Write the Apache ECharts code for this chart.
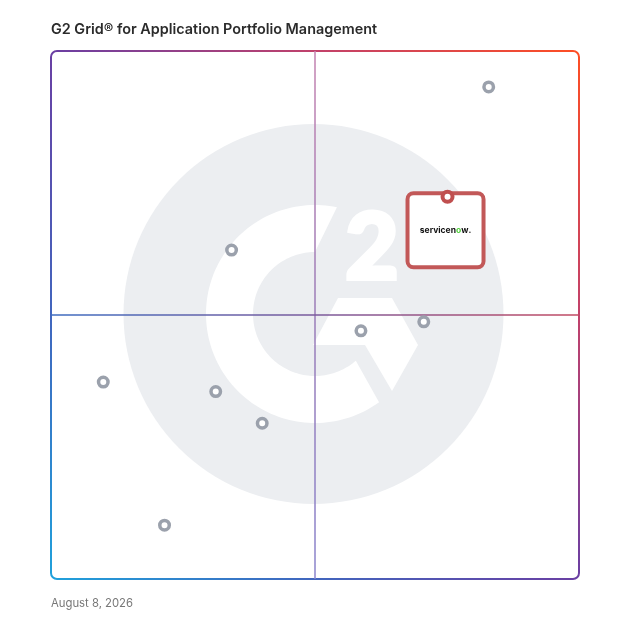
<!DOCTYPE html>
<html><head><meta charset="utf-8">
<script src="https://cdn.jsdelivr.net/npm/echarts@6/dist/echarts.min.js"></script>
<style>html,body{margin:0;padding:0;background:#fff}#c{width:628px;height:628px}</style>
</head><body><div id="c"></div>
<script>
const titleText = 'G2 Grid® for Application Portfolio Management';
const dateText = 'August 8, 2026';
const productX = [82.9, 34.2, 58.7, 70.6, 9.9, 31.2, 40.0, 21.5];
const productY = [93.2, 62.3, 47.0, 48.7, 37.3, 35.5, 29.5, 10.2];
const featuredName = 'servicenow';
const featuredX = [75.1];
const featuredY = [72.4];
const axisMin = 0, axisMax = 100, midValue = 50;

const chart = echarts.init(document.getElementById('c'), null, {renderer: 'canvas'});
const G = echarts.graphic;

// decorative G2 watermark geometry
const cx = 315, cy = 314, rOut = 109, rIn = 62;
const ringPts = [];
const deg = Math.PI / 180;
for (let a = -78.4; a >= -306; a -= 2) ringPts.push([cx + rOut * Math.cos(a * deg), cy + rOut * Math.sin(a * deg)]);
ringPts.push([cx + rOut * Math.cos(-306 * deg), cy + rOut * Math.sin(-306 * deg)]);
for (let a = -311.2; a <= -90; a += 2) ringPts.push([cx + rIn * Math.cos(a * deg), cy + rIn * Math.sin(a * deg)]);
ringPts.push([cx, cy - rIn]);

const borderGrad = new G.LinearGradient(0, 1, 1, 0, [
  {offset: 0, color: '#1fa2dc'}, {offset: 0.25, color: '#4166be'},
  {offset: 0.5, color: '#6a3fa3'}, {offset: 0.75, color: '#c2416a'},
  {offset: 1, color: '#ff4e22'}
]);
const vGrad = new G.LinearGradient(0, 0, 0, 1, [
  {offset: 0, color: '#c482b0'}, {offset: 0.5, color: '#9a7cb8'}, {offset: 1, color: '#8a84cc'}
]);
const hGrad = new G.LinearGradient(0, 0, 1, 0, [
  {offset: 0, color: '#3d6cc0'}, {offset: 0.5, color: '#7a5a9c'}, {offset: 1, color: '#c24a62'}
]);

const option = {
  animation: false,
  backgroundColor: '#fff',
  title: [
    {text: titleText, left: 51, top: 23, padding: 0,
     textStyle: {fontFamily: 'Inter', fontSize: 14.4, fontWeight: 600, color: '#2b2b2b'}},
    {text: dateText, left: 51, top: 598, padding: 0,
     textStyle: {fontFamily: 'Inter', fontSize: 11.3, fontWeight: 'normal', color: '#777'}}
  ],
  grid: {left: 51, right: 49, top: 51, bottom: 49},
  xAxis: {type: 'value', min: axisMin, max: axisMax, show: false},
  yAxis: {type: 'value', min: axisMin, max: axisMax, show: false},
  graphic: [
    {type: 'circle', z: -10, silent: true, shape: {cx: 313.5, cy: 314, r: 190}, style: {fill: '#eceef1'}},
    {type: 'polygon', z: -9, silent: true, shape: {points: ringPts}, style: {fill: '#fff'}},
    {type: 'polygon', z: -9, silent: true, shape: {points: [[338,298],[392,298],[418,345],[392,391],[365,345],[313,345]]}, style: {fill: '#fff'}},
    {type: 'text', z: -9, silent: true, x: 372, y: 249,
     style: {text: '2', fill: '#fff', stroke: '#fff', lineWidth: 4, font: '900 92px Lato', textAlign: 'center', textVerticalAlign: 'middle'}},
    {type: 'rect', z: 1, silent: true, shape: {x: 51, y: 51, width: 528, height: 528, r: 6},
     style: {fill: 'none', stroke: borderGrad, lineWidth: 2}}
  ],
  series: [
    {
      type: 'scatter', z: 2,
      data: productX.map((x, i) => [x, productY[i]]),
      symbol: 'circle', symbolSize: 9.5,
      itemStyle: {color: '#fff', borderColor: '#9ba1ac', borderWidth: 3.5, opacity: 1},
      emphasis: {disabled: true},
      markLine: {
        silent: true, symbol: 'none', z: 1, animation: false,
        label: {show: false},
        data: [
          {xAxis: midValue, lineStyle: {color: vGrad, width: 1.5, type: 'solid'}},
          {yAxis: midValue, lineStyle: {color: hGrad, width: 1.5, type: 'solid'}}
        ]
      }
    },
    {
      type: 'scatter', z: 3,
      data: featuredX.map((x, i) => ({name: featuredName, value: [x, featuredY[i]]})),
      symbol: 'circle', symbolSize: 2,
      itemStyle: {color: '#ffffff', opacity: 1},
      emphasis: {disabled: true},
      label: {
        show: true, position: 'inside', offset: [-2, 33.5], opacity: 1,
        formatter: '{a|servicen}{g|o}{a|w}{a|.}',
        width: 72, height: 70, padding: 0, lineHeight: 70,
        align: 'center', verticalAlign: 'middle',
        textBorderWidth: 0, textShadowBlur: 0,
        backgroundColor: '#fff', borderColor: '#c25858', borderWidth: 4, borderRadius: 4,
        rich: {
          a: {fontFamily: 'Inter', fontSize: 8.5, fontWeight: 'bold', color: '#111', lineHeight: 70, textBorderWidth: 0},
          g: {fontFamily: 'Inter', fontSize: 8.5, fontWeight: 'bold', color: '#4fcf3a', lineHeight: 70, textBorderWidth: 0}
        }
      }
    },
    {
      type: 'scatter', z: 4, zlevel: 1,
      data: featuredX.map((x, i) => [x, featuredY[i]]),
      symbol: 'circle', symbolSize: 10,
      itemStyle: {color: '#fff', borderColor: '#c04f4f', borderWidth: 4, opacity: 1},
      emphasis: {disabled: true}
    }
  ]
};
chart.setOption(option);
</script>
</body></html>
